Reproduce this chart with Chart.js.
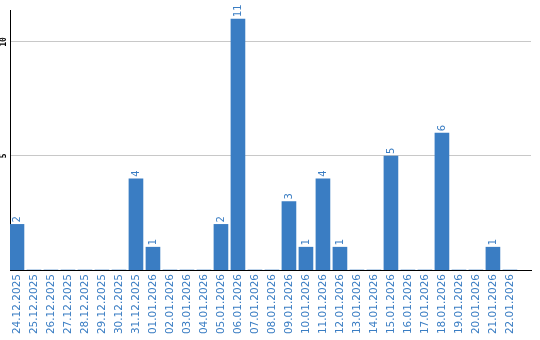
<!DOCTYPE html>
<html>
<head>
<meta charset="utf-8">
<script src="https://cdn.jsdelivr.net/npm/chart.js@4/dist/chart.umd.min.js"></script>
<style>
  html, body { margin: 0; padding: 0; background: #fff; }
  canvas { display: block; }
</style>
</head>
<body>
<canvas id="chart" width="540" height="340"></canvas>
<script>
const dates = [
    '24.12.2025', '25.12.2025', '26.12.2025', '27.12.2025', '28.12.2025', '29.12.2025',
    '30.12.2025', '31.12.2025', '01.01.2026', '02.01.2026', '03.01.2026', '04.01.2026',
    '05.01.2026', '06.01.2026', '07.01.2026', '08.01.2026', '09.01.2026', '10.01.2026',
    '11.01.2026', '12.01.2026', '13.01.2026', '14.01.2026', '15.01.2026', '16.01.2026',
    '17.01.2026', '18.01.2026', '19.01.2026', '20.01.2026', '21.01.2026', '22.01.2026'
];
const counts = [2, 0, 0, 0, 0, 0, 0, 4, 1, 0, 0, 0, 2, 11, 0, 0, 3, 1, 4, 1, 0, 0, 5, 0, 0, 6, 0, 0, 1, 0];
const yTicks = [5, 10];
const yMax = 11.4;

const BLUE = '#3a7dc3';

// value labels above the bars, rotated like the original
const barLabels = {
    id: 'barLabels',
    afterDatasetsDraw(chart) {
        const ctx = chart.ctx;
        const meta = chart.getDatasetMeta(0);
        ctx.save();
        ctx.font = '10px "DejaVu Sans"';
        ctx.fillStyle = BLUE;
        ctx.textAlign = 'left';
        ctx.textBaseline = 'middle';
        meta.data.forEach((bar, i) => {
            if (!counts[i]) return;
            ctx.save();
            ctx.translate(bar.x, bar.y - 2);
            ctx.rotate(-Math.PI / 2);
            ctx.fillText(String(counts[i]), 0, 0);
            ctx.restore();
        });
        ctx.restore();
    }
};

// small vertical y tick labels
const yLabels = {
    id: 'yLabels',
    afterDraw(chart) {
        const ctx = chart.ctx;
        const y = chart.scales.y;
        ctx.save();
        ctx.font = 'bold 8px "DejaVu Sans Mono"';
        ctx.fillStyle = '#000';
        ctx.textAlign = 'center';
        ctx.textBaseline = 'middle';
        yTicks.forEach(v => {
            ctx.save();
            ctx.translate(4, y.getPixelForValue(v));
            ctx.rotate(-Math.PI / 2);
            ctx.fillText(String(v), 0, 0);
            ctx.restore();
        });
        ctx.restore();
    }
};

new Chart(document.getElementById('chart'), {
    type: 'bar',
    data: {
        labels: dates,
        datasets: [{
            data: counts,
            backgroundColor: BLUE,
            borderWidth: 0,
            barThickness: 14
        }]
    },
    options: {
        responsive: false,
        animation: false,
        layout: { padding: { left: 0, right: 9, top: 10, bottom: 0 } },
        plugins: {
            legend: { display: false },
            tooltip: { enabled: false }
        },
        scales: {
            x: {
                offset: true,
                grid: { display: false, drawTicks: false },
                border: { color: '#000', width: 1 },
                afterBuildTicks: s => {
                    // bars sit 17px apart, axis runs a little past the last one
                    s._startValue = -0.41;
                    s._valueRange = 30.65;
                },
                afterFit: s => { s.height = 70; },
                ticks: {
                    autoSkip: false,
                    minRotation: 90,
                    maxRotation: 90,
                    padding: 4,
                    color: BLUE,
                    font: { family: 'DejaVu Sans', size: 10.5 }
                }
            },
            y: {
                min: 0,
                max: yMax,
                afterBuildTicks: s => { s.ticks = yTicks.map(v => ({ value: v })); },
                afterFit: s => { s.width = 10; },
                grid: { color: '#c8c8c8', drawTicks: false },
                border: { color: '#000', width: 1 },
                ticks: { display: false }
            }
        }
    },
    plugins: [barLabels, yLabels]
});
</script>
</body>
</html>
